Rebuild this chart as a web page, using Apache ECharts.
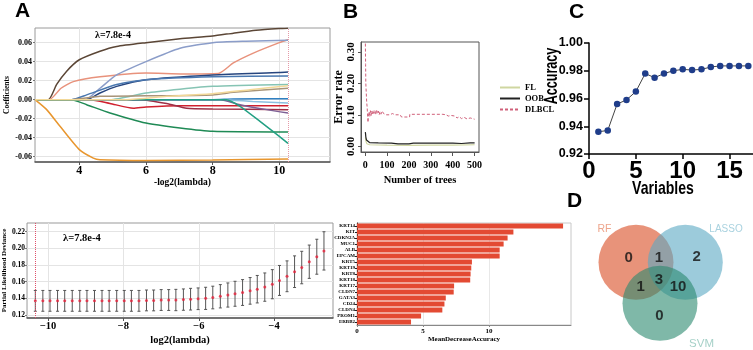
<!DOCTYPE html>
<html>
<head>
<meta charset="utf-8">
<script src="https://cdn.jsdelivr.net/npm/echarts@6/dist/echarts.min.js"></script>
<style>
html, body { margin: 0; padding: 0; background: #fff; }
#main { width: 753px; height: 350px; }
</style>
</head>
<body>
<div id="main"></div>
<script>
// ---- data ----
// A: lasso coefficient paths, [-log2(lambda), coef]
var coefColors = ['#5b4636', '#e8927c', '#8b9dc9', '#27457e', '#4a78b0', '#86c4b4', '#a89478', '#2f7fc1',
    '#8cc0e0', '#d0202e', '#9e2f46', '#7d5f94', '#1f8a55', '#22a083', '#e8962e', '#f2d898'];
var coefPaths = [
    [[2.67, 0], [3.07, 0], [3.32, 0.016], [3.62, 0.030], [4, 0.042], [4.62, 0.051], [5.12, 0.056], [6, 0.060], [7.02, 0.064], [8, 0.067], [8.62, 0.070], [9.3, 0.073], [10, 0.0748], [10.26, 0.0752]],
    [[2.67, 0], [3.1, 0], [3.45, 0.012], [3.82, 0.019], [4.62, 0.024], [6, 0.028], [7.12, 0.027], [8.17, 0.0275], [8.62, 0.0386], [9.22, 0.049], [10, 0.060], [10.26, 0.063]],
    [[2.67, 0], [4.17, 0], [4.62, 0.012], [5.12, 0.026], [6, 0.040], [7.02, 0.054], [8, 0.060], [9, 0.0615], [10.26, 0.0625]],
    [[2.67, 0], [4.22, 0], [4.62, 0.007], [5.12, 0.014], [6, 0.021], [8, 0.026], [10, 0.0285], [10.26, 0.029]],
    [[2.67, 0], [3.77, 0], [4.22, 0.005], [5.12, 0.016], [6, 0.021], [8, 0.024], [10.26, 0.025]],
    [[2.67, 0], [4.92, 0], [6, 0.007], [7.02, 0.011], [8, 0.014], [10.26, 0.016]],
    [[2.67, 0], [3.77, 0], [4.62, 0.0035], [6, 0.004], [8, 0.005], [8.62, 0.0077], [10.26, 0.012]],
    [[2.67, 0], [8, 0], [8.62, 0.0007], [10.26, 0.001]],
    [[2.67, 0], [8.3, 0], [9.2, -0.002], [10.26, -0.0035]],
    [[2.67, 0], [4.32, 0], [4.92, -0.004], [5.62, -0.009], [6, -0.0077], [7.02, -0.0063], [10.26, -0.0063]],
    [[2.67, 0], [5.82, 0], [6.62, -0.004], [7.22, -0.009], [8, -0.0098], [10.26, -0.0105]],
    [[2.67, 0], [8.22, 0], [8.82, -0.0053], [9.62, -0.0105], [10.26, -0.014]],
    [[2.67, 0], [3.77, 0], [4.22, -0.0053], [4.92, -0.014], [6, -0.0246], [7.02, -0.0298], [8, -0.0333], [10.26, -0.034]],
    [[2.67, 0], [8.42, 0], [8.82, -0.007], [9.42, -0.0228], [10, -0.0386], [10.26, -0.046]],
    [[2.67, 0], [3.02, -0.0105], [3.42, -0.028], [4, -0.0526], [4.42, -0.0615], [4.62, -0.0632], [6, -0.064], [8, -0.0635], [10.26, -0.0625]],
    [[2.67, 0], [5.42, 0], [6.62, 0.0035], [8, 0.0063], [9.12, 0.0105], [10.26, 0.0147]]
];
var lassoBestA = 10.27;
var lassoBestCV = -10.34;

// B: random forest error rate, [trees, error]
var errFL = [[1, 0.028], [4, 0.015], [8, 0.008], [20, 0.005], [100, 0.004], [200, 0.003], [300, 0.004], [400, 0.004], [500, 0.005]];
var errOOB = [[1, 0.045], [3, 0.03], [6, 0.02], [10, 0.015], [20, 0.012], [60, 0.011], [120, 0.01], [150, 0.008], [200, 0.008], [220, 0.01], [400, 0.01], [440, 0.009], [480, 0.011], [500, 0.011]];
var errDLBCL = [[1, 0.326], [2, 0.26], [3, 0.2], [5, 0.17], [7, 0.14], [9, 0.125], [11, 0.12], [13, 0.076], [15, 0.1], [18, 0.11], [21, 0.094], [24, 0.113], [27, 0.098], [30, 0.112], [33, 0.1], [37, 0.114], [40, 0.104], [44, 0.114], [48, 0.1], [52, 0.116], [56, 0.104], [60, 0.112], [64, 0.1], [68, 0.11], [72, 0.102], [78, 0.112], [84, 0.104], [90, 0.108], [96, 0.1], [104, 0.106], [112, 0.1], [125, 0.104], [137, 0.1], [160, 0.1], [166, 0.093], [203, 0.093], [204, 0.1016], [355, 0.1016], [360, 0.098], [370, 0.1], [380, 0.096], [392, 0.098], [400, 0.094], [410, 0.096], [420, 0.09], [430, 0.094], [440, 0.088], [452, 0.092], [465, 0.087], [480, 0.09], [500, 0.086]];

// C: SVM-RFE accuracy
var nVars = [1, 2, 3, 4, 5, 6, 7, 8, 9, 10, 11, 12, 13, 14, 15, 16, 17];
var accuracy = [0.936, 0.937, 0.956, 0.959, 0.965, 0.978, 0.975, 0.978, 0.980, 0.981, 0.9805, 0.981, 0.9827, 0.9835, 0.9835, 0.9835, 0.9835];

// cross validation of lasso
var cvLogLambda = [-10.34, -10.14, -9.95, -9.75, -9.56, -9.36, -9.16, -8.97, -8.77, -8.57, -8.38, -8.18, -7.98, -7.79, -7.59, -7.39, -7.20, -7.00, -6.80, -6.61,
    -6.41, -6.22, -6.02, -5.82, -5.63, -5.43, -5.23, -5.04, -4.84, -4.64, -4.45, -4.25, -4.05, -3.86, -3.66, -3.46, -3.27, -3.07, -2.87, -2.68];
var cvMean = [0.137, 0.137, 0.137, 0.137, 0.137, 0.137, 0.137, 0.137, 0.137, 0.137, 0.137, 0.137, 0.137, 0.137, 0.137, 0.1375, 0.1375, 0.138, 0.138, 0.138,
    0.1385, 0.139, 0.1395, 0.140, 0.141, 0.1425, 0.144, 0.1455, 0.147, 0.149, 0.151, 0.1535, 0.157, 0.1615, 0.1665, 0.172, 0.177, 0.184, 0.190, 0.197];
var cvUpper = [0.1495, 0.1495, 0.1495, 0.1495, 0.1495, 0.1495, 0.1495, 0.1495, 0.1495, 0.1495, 0.1495, 0.1495, 0.1495, 0.1495, 0.1495, 0.150, 0.150, 0.1505, 0.1505, 0.1508,
    0.1513, 0.152, 0.1525, 0.1533, 0.1546, 0.1565, 0.1585, 0.1605, 0.1625, 0.165, 0.1675, 0.1705, 0.1745, 0.1795, 0.185, 0.191, 0.1965, 0.204, 0.211, 0.220];
var cvLower = [0.1245, 0.1245, 0.1245, 0.1245, 0.1245, 0.1245, 0.1245, 0.1245, 0.1245, 0.1245, 0.1245, 0.1245, 0.1245, 0.1245, 0.1245, 0.125, 0.125, 0.1255, 0.1255, 0.1252,
    0.1257, 0.126, 0.1265, 0.1267, 0.1274, 0.1285, 0.1295, 0.1305, 0.1315, 0.133, 0.1345, 0.1365, 0.1395, 0.1435, 0.148, 0.153, 0.1575, 0.164, 0.169, 0.174];

// random forest importance
var geneNames = ['KRT14', 'KIT', 'CDKN2A', 'MUC1', 'ALB', 'EPCAM', 'KRT5', 'KRT19', 'KRT8', 'KRT18', 'KRT17', 'CLDN7', 'GATA3', 'CD24', 'CLDN4', 'PROM1', 'ERBB2'];
var geneImportance = [15.6, 11.84, 11.4, 11.1, 10.8, 10.8, 8.7, 8.65, 8.6, 8.57, 7.35, 7.32, 6.72, 6.62, 6.46, 4.85, 4.09];

// D: venn
var vennSets = ['RF', 'LASSO', 'SVM'];
var vennCenters = [[76, 72.3], [125.3, 72.3], [100, 113.3]];
var vennCounts = [0, 1, 2, 1, 3, 10, 0];
var vennCountPos = [[68.7, 68.3], [99, 68.3], [136.7, 66.7], [80.7, 96.7], [99, 90], [118, 96.7], [99.3, 126]];

// ---- chart ----
var serif = "'Liberation Serif', 'Times New Roman', serif";
var sans = "'Liberation Sans', Arial, sans-serif";

function lbl(size, family, extra) {
    var o = {fontFamily: family, fontSize: size, fontWeight: 'bold', color: '#000'};
    for (var k in extra) o[k] = extra[k];
    return o;
}
function txt(t, x, y, font, color, align, more) {
    var el = {type: 'text', x: x, y: y, silent: true, z: 100,
        style: {text: t, font: font, fill: color || '#000', align: align || 'left', verticalAlign: 'middle'}};
    for (var k in more) el[k] = more[k];
    return el;
}
var fix2 = function (v) { return v.toFixed(2); };

var chart = echarts.init(document.getElementById('main'));

var series = [];
coefPaths.forEach(function (p, i) {
    series.push({
        type: 'line', xAxisIndex: 0, yAxisIndex: 0, data: p, symbol: 'none', silent: true,
        smooth: 0.2,
        lineStyle: {color: coefColors[i], width: 1.5},
        markLine: i === 0 ? {
            symbol: ['none', 'none'], silent: true, label: {show: false},
            lineStyle: {color: '#e59aa8', type: 'dotted', width: 1},
            data: [{xAxis: lassoBestA}]
        } : undefined
    });
});

series.push(
    {name: 'FL', type: 'line', xAxisIndex: 1, yAxisIndex: 1, data: errFL, symbol: 'none', silent: true,
        lineStyle: {color: '#cfd6a0', width: 1.2}, itemStyle: {color: '#cfd6a0'}},
    {name: 'OOB', type: 'line', xAxisIndex: 1, yAxisIndex: 1, data: errOOB, symbol: 'none', silent: true,
        lineStyle: {color: '#222', width: 1.2}, itemStyle: {color: '#222'}},
    {name: 'DLBCL', type: 'line', xAxisIndex: 1, yAxisIndex: 1, data: errDLBCL, symbol: 'none', silent: true,
        lineStyle: {color: '#d0607a', width: 1, type: [3, 2]}, itemStyle: {color: '#d0607a'}}
);

series.push({
    type: 'line', xAxisIndex: 2, yAxisIndex: 2, silent: true,
    data: nVars.map(function (v, i) { return [v, accuracy[i]]; }),
    symbol: 'circle', symbolSize: 6.5,
    itemStyle: {color: '#1f3d8a'},
    lineStyle: {color: '#444', width: 1}
});

series.push({
    type: 'custom', xAxisIndex: 3, yAxisIndex: 3, silent: true,
    data: cvLogLambda.map(function (x, i) { return [x, cvLower[i], cvUpper[i]]; }),
    encode: {x: 0, y: [1, 2]},
    renderItem: function (params, api) {
        var top = api.coord([api.value(0), api.value(2)]);
        var bot = api.coord([api.value(0), api.value(1)]);
        var w = 1.5, st = {stroke: '#555', lineWidth: 1};
        return {type: 'group', children: [
            {type: 'line', shape: {x1: top[0], y1: top[1], x2: bot[0], y2: bot[1]}, style: st},
            {type: 'line', shape: {x1: top[0] - w, y1: top[1], x2: top[0] + w, y2: top[1]}, style: st},
            {type: 'line', shape: {x1: bot[0] - w, y1: bot[1], x2: bot[0] + w, y2: bot[1]}, style: st}
        ]};
    },
    markLine: {
        symbol: ['none', 'none'], silent: true, label: {show: false},
        lineStyle: {color: '#e0506a', type: 'dotted', width: 1},
        data: [{xAxis: lassoBestCV}]
    }
}, {
    type: 'scatter', xAxisIndex: 3, yAxisIndex: 3, silent: true, z: 3,
    data: cvLogLambda.map(function (x, i) { return [x, cvMean[i]]; }),
    symbolSize: 3, itemStyle: {color: '#e8203a'}
});

series.push({
    type: 'bar', xAxisIndex: 4, yAxisIndex: 4, silent: true, data: geneImportance,
    barCategoryGap: '14%', itemStyle: {color: '#e34a33'}
});

var vennColors = ['#d94b21', '#5aa8c3', '#2a896e'];
series.push({
    type: 'scatter', xAxisIndex: 5, yAxisIndex: 5, silent: true, symbolSize: 75,
    data: vennCenters.map(function (c, i) {
        return {value: c, itemStyle: {color: vennColors[i], opacity: 0.6}};
    })
}, {
    type: 'scatter', xAxisIndex: 5, yAxisIndex: 5, silent: true, symbolSize: 1, z: 5,
    itemStyle: {color: 'rgba(0,0,0,0)'},
    data: vennCountPos.map(function (p, i) { return [p[0], p[1], vennCounts[i]]; }),
    label: {show: true, position: 'inside', formatter: function (p) { return p.value[2]; },
        fontFamily: sans, fontSize: 15, fontWeight: 'bold', color: '#111'}
});

var option = {
    backgroundColor: '#fff',
    animation: false,
    legend: {
        data: ['FL', 'OOB', 'DLBCL'], orient: 'vertical', left: 494, top: 78,
        itemWidth: 20, itemHeight: 10, itemGap: 2, selectedMode: false,
        itemStyle: {opacity: 0, color: 'rgba(0,0,0,0)', borderWidth: 0},
        textStyle: lbl(8.5, serif)
    },
    grid: [
        {left: 35, top: 28, width: 295, height: 134, show: true, borderColor: '#9a9a9a', borderWidth: 1},
        {left: 361, top: 42, width: 118, height: 110, show: true, borderColor: '#555', borderWidth: 1},
        {left: 589, top: 43, width: 164, height: 111},
        {left: 26, top: 223, width: 307, height: 95, show: true, borderColor: '#999', borderWidth: 1},
        {left: 357, top: 223, width: 214, height: 102, show: true, borderColor: '#c8c8c8', borderWidth: 1},
        {left: 560, top: 190, width: 193, height: 160}
    ],
    xAxis: [
        {gridIndex: 0, type: 'value', min: 2.67, max: 11.52,
            axisLine: {show: true, onZero: false, lineStyle: {color: '#555', width: 1.5}},
            axisTick: {show: true, length: 3, customValues: [4, 6, 8, 10], lineStyle: {color: '#555'}},
            axisLabel: lbl(12, serif, {customValues: [4, 6, 8, 10], margin: 3}),
            splitLine: {show: true, lineStyle: {color: '#e4e4e4'}},
            name: '-log2(lambda)', nameLocation: 'middle', nameGap: 10, nameTextStyle: lbl(9.5, serif)},
        {gridIndex: 1, type: 'value', min: -19, max: 520,
            axisLine: {show: true, onZero: false, lineStyle: {color: '#555'}},
            axisTick: {show: true, length: 4, customValues: [0, 100, 200, 300, 400, 500], lineStyle: {color: '#555'}},
            axisLabel: lbl(10, serif, {customValues: [0, 100, 200, 300, 400, 500], margin: 8}),
            splitLine: {show: false},
            name: 'Number of trees', nameLocation: 'middle', nameGap: 23, nameTextStyle: lbl(10.5, serif)},
        {gridIndex: 2, type: 'value', min: 0, max: 17.5,
            axisLine: {show: true, onZero: false, lineStyle: {color: '#000', width: 1.5}},
            axisTick: {show: true, length: 5, customValues: [0, 5, 10, 15], lineStyle: {color: '#000', width: 1.5}},
            axisLabel: lbl(24, sans, {customValues: [0, 5, 10, 15], margin: 5}),
            splitLine: {show: false}},
        {gridIndex: 3, type: 'value', min: -10.56, max: -2.44,
            axisLine: {show: true, onZero: false, lineStyle: {color: '#555', width: 1.5}},
            axisTick: {show: true, length: 3, customValues: [-10, -8, -6, -4], lineStyle: {color: '#555'}},
            axisLabel: lbl(10.5, serif, {customValues: [-10, -8, -6, -4], margin: 3,
                formatter: function (v) { return String(v).replace('-', '\u2212'); }}),
            splitLine: {show: true, lineStyle: {color: '#e4e4e4'}},
            name: 'log2(lambda)', nameLocation: 'middle', nameGap: 17, nameTextStyle: lbl(10.5, serif)},
        {gridIndex: 4, type: 'value', min: 0, max: 16.2,
            axisLine: {show: true, onZero: false, lineStyle: {color: '#888'}},
            axisTick: {show: true, length: 2, customValues: [0, 5, 10], lineStyle: {color: '#888'}},
            axisLabel: lbl(7, serif, {customValues: [0, 5, 10], margin: 3}),
            splitLine: {show: true, lineStyle: {color: '#e8e8e8'}},
            name: 'MeanDecreaseAccuracy', nameLocation: 'middle', nameGap: 9, nameTextStyle: lbl(7, serif)},
        {gridIndex: 5, type: 'value', min: 0, max: 193, show: false}
    ],
    yAxis: [
        {gridIndex: 0, type: 'value', min: -0.0656, max: 0.0754,
            axisLine: {show: false, onZero: false},
            axisTick: {show: true, length: 2, customValues: [-0.06, -0.04, -0.02, 0, 0.02, 0.04, 0.06], lineStyle: {color: '#777'}},
            axisLabel: lbl(8, serif, {customValues: [-0.06, -0.04, -0.02, 0, 0.02, 0.04, 0.06], margin: 3, formatter: fix2}),
            splitLine: {show: true, lineStyle: {color: '#e4e4e4'}},
            name: 'Coefficients', nameLocation: 'middle', nameGap: 18, nameTextStyle: lbl(7.5, serif)},
        {gridIndex: 1, type: 'value', min: -0.018, max: 0.331,
            axisLine: {show: true, onZero: false, lineStyle: {color: '#555'}},
            axisTick: {show: true, length: 3, customValues: [0, 0.1, 0.2, 0.3], lineStyle: {color: '#555'}},
            axisLabel: lbl(11, serif, {customValues: [0, 0.1, 0.2, 0.3], margin: 4, rotate: 90, formatter: fix2}),
            splitLine: {show: false},
            name: 'Error rate', nameLocation: 'middle', nameGap: 13, nameTextStyle: lbl(12, serif)},
        {gridIndex: 2, type: 'value', min: 0.92, max: 1.0,
            axisLine: {show: true, onZero: false, lineStyle: {color: '#000', width: 1.5}},
            axisTick: {show: true, length: 5, customValues: [0.92, 0.94, 0.96, 0.98, 1.0], lineStyle: {color: '#000', width: 1.5}},
            axisLabel: lbl(12.5, sans, {customValues: [0.92, 0.94, 0.96, 0.98, 1.0], margin: 6, formatter: fix2}),
            splitLine: {show: false}},
        {gridIndex: 3, type: 'value', min: 0.1164, max: 0.2305,
            axisLine: {show: false, onZero: false},
            axisTick: {show: true, length: 2, customValues: [0.12, 0.14, 0.16, 0.18, 0.2, 0.22], lineStyle: {color: '#777'}},
            axisLabel: lbl(7.5, serif, {customValues: [0.12, 0.14, 0.16, 0.18, 0.2, 0.22], margin: 2, formatter: fix2}),
            splitLine: {show: true, lineStyle: {color: '#e4e4e4'}},
            name: 'Partial Likelihood Deviance', nameLocation: 'middle', nameGap: 16, nameTextStyle: lbl(7, serif)},
        {gridIndex: 4, type: 'category', data: geneNames, inverse: true,
            axisLine: {show: true, onZero: false, lineStyle: {color: '#222'}},
            axisTick: {show: true, length: 2, alignWithLabel: true, lineStyle: {color: '#222'}},
            axisLabel: lbl(5, serif, {margin: 2, interval: 0})},
        {gridIndex: 5, type: 'value', min: 0, max: 160, inverse: true, show: false}
    ],
    graphic: [
        txt('A', 15, 11, 'bold 21px ' + sans),
        txt('B', 343, 12.5, 'bold 21px ' + sans),
        txt('C', 569, 12.5, 'bold 21px ' + sans),
        txt('D', 567, 201.5, 'bold 21px ' + sans),
        txt('\u03bb=7.8e-4', 95, 35, 'bold 10px ' + serif),
        txt('\u03bb=7.8e-4', 63, 238, 'bold 10.5px ' + serif),
        txt('Variables', 663, 189, 'bold 19px ' + sans, '#000', 'center', {scaleX: 0.74}),
        txt('Accuracy', 552, 76, 'bold 18px ' + sans, '#000', 'center', {rotation: Math.PI / 2, scaleX: 0.7}),
        txt(vennSets[0], 604.5, 229, '10.5px ' + sans, '#eea58c', 'center'),
        txt(vennSets[1], 726, 229, '10px ' + sans, '#a9d2df', 'center'),
        txt(vennSets[2], 701.5, 344, '11.5px ' + sans, '#a6d1c8', 'center')
    ],
    series: series
};

chart.setOption(option);
</script>
</body>
</html>
